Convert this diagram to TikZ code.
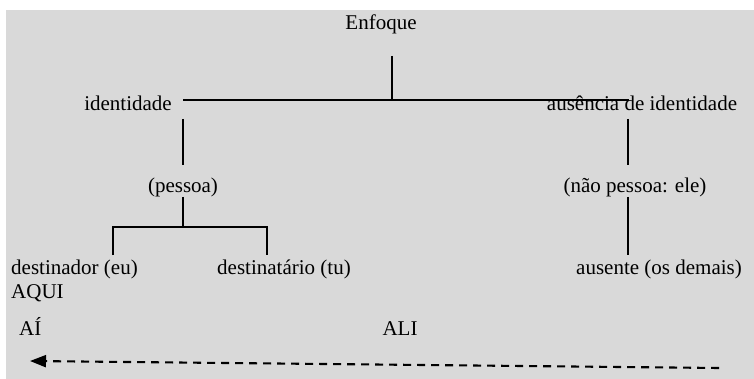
\documentclass[tikz,border=0pt]{standalone}
\usepackage{fontspec}
\setmainfont{Liberation Serif}
\usetikzlibrary{arrows.meta}
\definecolor{bggray}{HTML}{D9D9D9}
\begin{document}
\begin{tikzpicture}[x=1pt,y=-1pt,
  lbl/.style={inner sep=0pt,font=\fontsize{21}{24}\selectfont},
  tline/.style={line width=1.7pt,black},
  darrow/.style={line width=2.1pt,dash pattern=on 8pt off 6pt,-{Triangle[length=16pt,width=12pt]}}]
\useasboundingbox (0,0) rectangle (754,379);
\fill[bggray] (6,10) rectangle (754,379);
% texts
\node[lbl,anchor=base] (enf) at (381,30) {Enfoque};
\node[lbl,anchor=base] (ident) at (128,111) {identidade};
\node[lbl,anchor=base] (ausid) at (642,111) {ausência de identidade};
\node[lbl,anchor=base] (pess) at (183,193) {(pessoa)};
\node[lbl,anchor=base] (naop) at (635,193) {(não pessoa: ele)};
\node[lbl,anchor=base west] (dest) at (11,274) {destinador (eu)};
\node[lbl,anchor=base west] (aqui) at (11,298) {AQUI};
\node[lbl,anchor=base west] (desttu) at (217,274) {destinatário (tu)};
\node[lbl,anchor=base east] (ausente) at (742,274) {ausente (os demais)};
\node[lbl,anchor=base west] (ai) at (19,335) {AÍ};
\node[lbl,anchor=base] (ali) at (400,335) {ALI};
% tree coordinates
\coordinate (eTop) at (392,56);
\coordinate (eBot) at (392,100);
\coordinate (hL) at (183,100);
\coordinate (hR) at (629,100);
\coordinate (lA) at (183,119);
\coordinate (lB) at (183,165);
\coordinate (lC) at (183,197);
\coordinate (lD) at (183,227);
\coordinate (bL) at (113,227);
\coordinate (bR) at (267,227);
\coordinate (bLd) at (113,255);
\coordinate (bRd) at (267,255);
\coordinate (rA) at (628,119);
\coordinate (rB) at (628,165);
\coordinate (rC) at (628,197);
\coordinate (rD) at (628,255);
\draw[tline] (eTop) -- (eBot);
\draw[line width=2.2pt] (hL) -- (hR);
\draw[tline] (lA) -- (lB);
\draw[tline] (lC) -- (lD);
\draw[tline] (bLd) -- (bL) -- (bR) -- (bRd);
\draw[tline] (rA) -- (rB);
\draw[tline] (rC) -- (rD);
% dashed arrow
\coordinate (arrS) at (719,368);
\coordinate (arrE) at (30,361);
\draw[darrow] (arrS) -- (arrE);
\end{tikzpicture}
\end{document}
